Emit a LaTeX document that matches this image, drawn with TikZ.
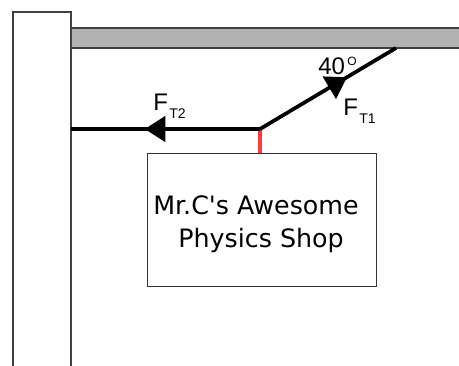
\documentclass[tikz,border=0pt]{standalone}
\usepackage{fontspec}
\setmainfont{Liberation Sans}
\newfontfamily\signfont{DejaVu Sans}
\usetikzlibrary{arrows.meta,decorations.markings}
\definecolor{hangred}{RGB}{255,60,60}
\begin{document}
\begin{tikzpicture}[x=0.75pt,y=-0.75pt,
  rope/.style={line width=2.8pt,line cap=butt},
  lbl/.style={anchor=base west,inner sep=0pt,font=\fontsize{18}{20}\selectfont},
  sub/.style={anchor=base west,inner sep=0pt,font=\fontsize{10.5}{12}\selectfont},
  edge/.style={line width=0.9pt,draw=black!75},
  hanger/.style={line width=2.4pt,draw=hangred},
  tipmark/.style={postaction={decorate},decoration={markings,mark=at position #1 with {\arrow{Triangle[length=15.5pt,width=19pt]}}}}]
\useasboundingbox (0,0) rectangle (459,365);
% post
\draw[edge] (13,366) -- (13,12) -- (71,12) -- (71,366);
% beam
\draw[edge,fill=black!30] (71,28) rectangle (462,48);
% coordinates
\coordinate (J) at (260,129);
\coordinate (L) at (71,129);
\coordinate (R) at (396,48);
\coordinate (S) at (260,153);
% red hanger
\draw[hanger] (J) -- (S);
% ropes
\draw[rope,tipmark=0.61] (J) -- (L);
\draw[rope,tipmark=0.64] (J) -- (R);
% sign
\node[draw=black!80,line width=0.9pt,minimum width=171.75pt,minimum height=99.75pt,inner sep=0pt,anchor=north west] (sign) at (147,153) {};
\node[inner sep=0pt,anchor=base,font=\signfont\fontsize{19}{24}\selectfont] (line1) at (256,214) {Mr.C's Awesome};
\node[inner sep=0pt,anchor=base,font=\signfont\fontsize{19}{24}\selectfont] (line2) at (261,247) {Physics Shop};
% labels
\node[lbl] (ft2) at (153,110) {F};
\node[sub] (ft2s) at (169,118) {T2};
\node[lbl] (ang) at (318,74) {40};
\node[anchor=base west,inner sep=0pt,font=\fontsize{9}{10}\selectfont] (deg) at (347,65) {O};
\node[lbl] (ft1) at (343,115) {F};
\node[sub] (ft1s) at (359,123) {T1};
\end{tikzpicture}
\end{document}
